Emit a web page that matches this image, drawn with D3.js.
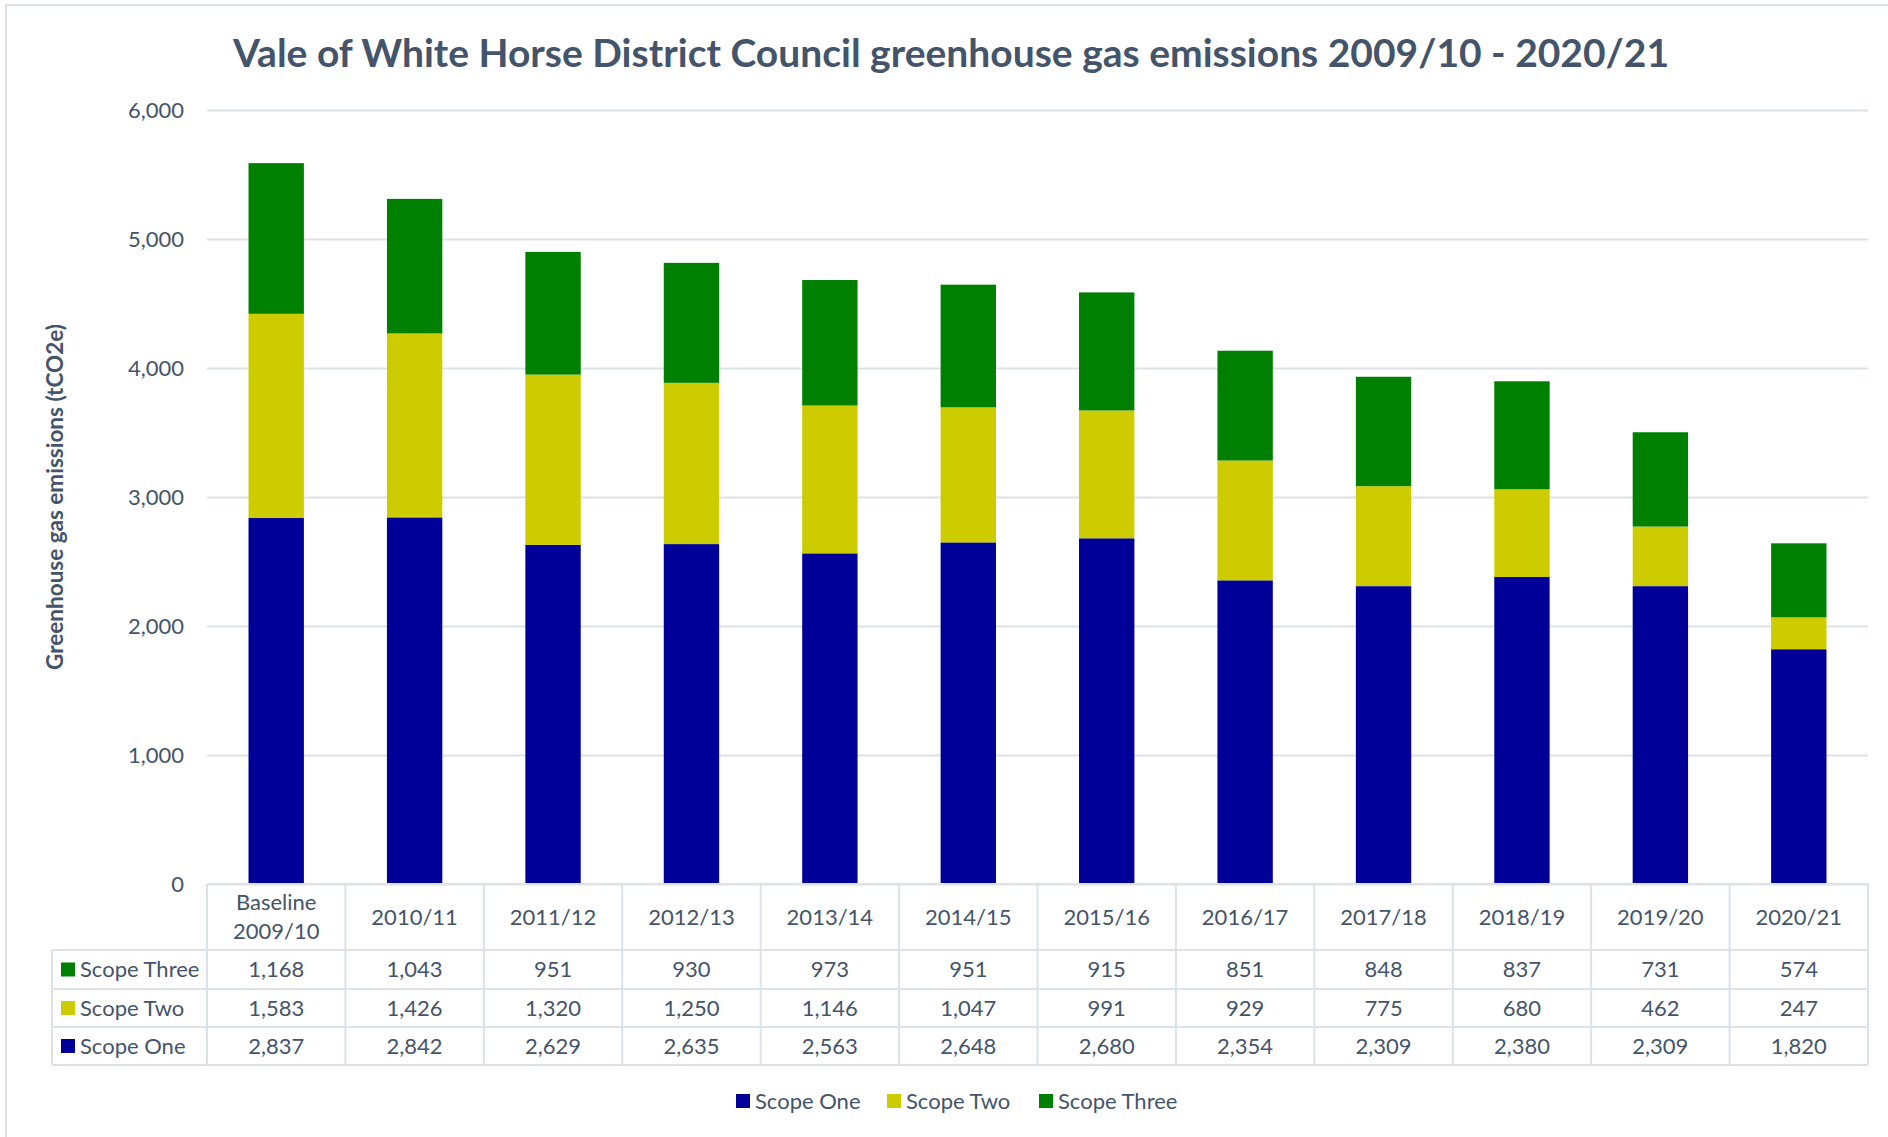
<!DOCTYPE html>
<html lang="en">
  <head>
    <meta charset="UTF-8">
    <title>Vale of White Horse greenhouse gas emissions</title>
    <style>
      body { margin: 0; background: #fff; }
      text { font-family: Lato, "Open Sans", sans-serif; fill: #44546A; }
      .title { font-weight: bold; font-size: 39px; }
      .axis-label { font-weight: bold; font-size: 22.5px; }
      .axis-y text { font-size: 22px; }
      .axis-y path { display: none; }
      .axis-y .tick line { stroke: #DDE2E9; stroke-width: 2; }
      .cell { font-size: 22px; }
      .grid { stroke: #DDE2E9; stroke-width: 2; }
    </style>
    <script src="https://d3js.org/d3.v7.min.js"></script>
  </head>
  <body>
    <script>
      const categories = ["Baseline 2009/10", "2010/11", "2011/12", "2012/13", "2013/14", "2014/15",
        "2015/16", "2016/17", "2017/18", "2018/19", "2019/20", "2020/21"];
      const scopeOne = [2837, 2842, 2629, 2635, 2563, 2648, 2680, 2354, 2309, 2380, 2309, 1820];
      const scopeTwo = [1583, 1426, 1320, 1250, 1146, 1047, 991, 929, 775, 680, 462, 247];
      const scopeThree = [1168, 1043, 951, 930, 973, 951, 915, 851, 848, 837, 731, 574];
      const seriesNames = ["Scope One", "Scope Two", "Scope Three"];
      const colors = ["#000099", "#CCCC00", "#008000"];
      const yTicks = [0, 1000, 2000, 3000, 4000, 5000, 6000];

      const width = 1888;
      const height = 1137;
      const plotLeft = 207, plotRight = 1868, plotTop = 110, plotBottom = 884;

      const svg = d3.select("body")
        .append("svg")
        .attr("width", width)
        .attr("height", height);

      // chart frame (only top and left edges are in view)
      svg.append("rect")
        .attr("x", 6).attr("y", 5)
        .attr("width", width).attr("height", height)
        .attr("fill", "none")
        .attr("stroke", "#DDE2E9")
        .attr("stroke-width", 2);

      const data = categories.map((c, i) => ({
        cat: c,
        "Scope One": scopeOne[i],
        "Scope Two": scopeTwo[i],
        "Scope Three": scopeThree[i]
      }));

      const x = d3.scaleBand()
        .domain(categories)
        .range([plotLeft, plotRight])
        .paddingInner(0.6)
        .paddingOuter(0.3);

      const y = d3.scaleLinear()
        .domain([0, 6000])
        .range([plotBottom, plotTop]);

      svg.append("g")
        .attr("class", "axis-y")
        .attr("transform", `translate(${plotLeft},0)`)
        .call(d3.axisLeft(y)
          .tickValues(yTicks)
          .tickFormat(d3.format(","))
          .tickSize(-(plotRight - plotLeft))
          .tickPadding(23))
        .call(g => g.selectAll(".tick text").attr("x", -23));

      svg.append("text")
        .attr("class", "title")
        .attr("x", 951)
        .attr("y", 67)
        .attr("text-anchor", "middle")
        .text("Vale of White Horse District Council greenhouse gas emissions 2009/10 - 2020/21");

      svg.append("text")
        .attr("class", "axis-label")
        .attr("transform", "translate(63,497) rotate(-90)")
        .attr("text-anchor", "middle")
        .text("Greenhouse gas emissions (tCO2e)");

      const stacked = d3.stack().keys(seriesNames)(data);

      svg.append("g")
        .selectAll("g")
        .data(stacked)
        .join("g")
        .attr("fill", (d, i) => colors[i])
        .selectAll("rect")
        .data(d => d)
        .join("rect")
        .attr("x", d => x(d.data.cat))
        .attr("y", d => y(d[1]))
        .attr("width", x.bandwidth())
        .attr("height", d => y(d[0]) - y(d[1]));

      // data table under the axis
      const step = x.step();
      const colLeft = c => x(c) - (step - x.bandwidth()) / 2;
      const tableLeft = 52;
      const rowEdges = [plotBottom, 950, 989, 1027, 1065];
      const tableRows = [
        { name: "Scope Three", values: scopeThree, color: colors[2] },
        { name: "Scope Two", values: scopeTwo, color: colors[1] },
        { name: "Scope One", values: scopeOne, color: colors[0] }
      ];

      const table = svg.append("g");

      table.append("line").attr("class", "grid")
        .attr("x1", plotLeft).attr("x2", plotRight)
        .attr("y1", rowEdges[0]).attr("y2", rowEdges[0]);
      rowEdges.slice(1).forEach(ry => {
        table.append("line").attr("class", "grid")
          .attr("x1", tableLeft).attr("x2", plotRight)
          .attr("y1", ry).attr("y2", ry);
      });
      table.append("line").attr("class", "grid")
        .attr("x1", tableLeft).attr("x2", tableLeft)
        .attr("y1", rowEdges[1]).attr("y2", rowEdges[4]);
      categories.forEach(c => {
        table.append("line").attr("class", "grid")
          .attr("x1", colLeft(c)).attr("x2", colLeft(c))
          .attr("y1", rowEdges[0]).attr("y2", rowEdges[4]);
      });
      table.append("line").attr("class", "grid")
        .attr("x1", plotRight).attr("x2", plotRight)
        .attr("y1", rowEdges[0]).attr("y2", rowEdges[4]);

      // header labels
      table.selectAll(".head")
        .data(categories)
        .join("text")
        .attr("class", "head cell")
        .attr("text-anchor", "middle")
        .attr("x", c => x(c) + x.bandwidth() / 2)
        .attr("y", (rowEdges[0] + rowEdges[1]) / 2)
        .each(function(c) {
          const parts = c.split(" ");
          const t = d3.select(this);
          if (parts.length === 1) {
            t.attr("dy", "0.35em").text(c);
          } else {
            parts.forEach((p, k) => {
              t.append("tspan")
                .attr("x", x(c) + x.bandwidth() / 2)
                .attr("dy", k === 0 ? "-0.32em" : "1.32em")
                .text(p);
            });
          }
        });

      tableRows.forEach((r, ri) => {
        const cy = (rowEdges[ri + 1] + rowEdges[ri + 2]) / 2;
        table.append("rect")
          .attr("x", 61).attr("y", cy - 7)
          .attr("width", 14).attr("height", 14)
          .attr("fill", r.color);
        table.append("text")
          .attr("class", "cell")
          .attr("x", 80).attr("y", cy)
          .attr("dy", "0.35em")
          .text(r.name);
        table.selectAll(null)
          .data(r.values)
          .join("text")
          .attr("class", "cell")
          .attr("text-anchor", "middle")
          .attr("x", (v, i) => x(categories[i]) + x.bandwidth() / 2)
          .attr("y", cy)
          .attr("dy", "0.35em")
          .text(v => d3.format(",")(v));
      });

      // legend
      const legendX = [736, 887, 1039];
      const legend = svg.append("g")
        .selectAll("g")
        .data(seriesNames)
        .join("g")
        .attr("transform", (d, i) => `translate(${legendX[i]},1101)`);
      legend.append("rect")
        .attr("x", 0).attr("y", -7)
        .attr("width", 14).attr("height", 14)
        .attr("fill", (d, i) => colors[i]);
      legend.append("text")
        .attr("class", "cell")
        .attr("x", 19)
        .attr("dy", "0.35em")
        .text(d => d);
    </script>
  </body>
</html>
